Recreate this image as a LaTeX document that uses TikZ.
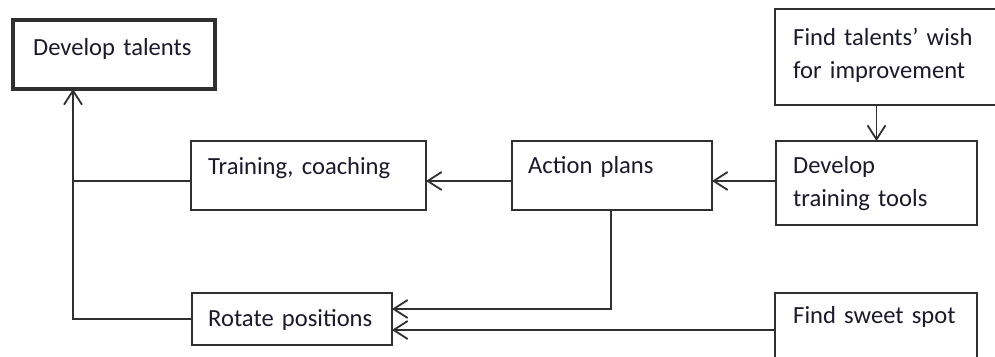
\documentclass[tikz,border=0pt]{standalone}
\usepackage{fontspec}
\setmainfont{Carlito}
\usetikzlibrary{arrows.meta}
\definecolor{linec}{HTML}{303030}
\definecolor{textc}{HTML}{1A1A2A}
\begin{document}
\begin{tikzpicture}[x=1pt,y=-1pt,
  box/.style={draw=linec, line width=1.8pt, fill=white, rectangle, inner sep=0pt, outer sep=0pt, anchor=north west},
  txt/.style={font=\fontsize{24.6}{33}\selectfont, text=textc, inner sep=0pt, anchor=base west, text width=220pt, align=left},
  conn/.style={draw=linec, line width=1.8pt},
  arr/.style={conn, -{Straight Barb[length=14pt,width=18pt,line width=1.8pt]}}]
\useasboundingbox (0,0) rectangle (995,356);
\clip (0,0) rectangle (995,356);
\fill[white] (0,0) rectangle (995,356);
% boxes
\node[box, line width=3.5pt, minimum width=202pt, minimum height=69pt] (dt) at (13,20) {};
\node[box, minimum width=235pt, minimum height=69pt] (tc) at (191,141) {};
\node[box, minimum width=200pt, minimum height=69pt] (ap) at (512,141) {};
\node[box, minimum width=235pt, minimum height=96pt] (ft) at (775,9) {};
\node[box, minimum width=201pt, minimum height=84pt] (dtt) at (776,141) {};
\node[box, minimum width=200pt, minimum height=52pt] (rp) at (192,293) {};
\node[box, minimum width=202pt, minimum height=80pt] (fs) at (775,293) {};
% texts
\node[txt] (t1) at (33,55) {Develop talents};
\node[txt] (t2) at (208,174) {Training, coaching};
\node[txt] (t3) at (528,173) {Action plans};
\node[txt] (t4) at (793,45) {Find talents’ wish\\for improvement};
\node[txt] (t5) at (793,173) {Develop\\training tools};
\node[txt] (t6) at (208,326) {Rotate positions};
\node[txt] (t7) at (793,323) {Find sweet spot};
% routing coordinates
\coordinate (hA) at (0,181);
\coordinate (hB) at (0,309);
\coordinate (hC) at (0,330);
\coordinate (vx) at (73,0);
\coordinate (vB) at (611,0);
% connectors
\draw[arr] (dtt.north |- ft.south) -- (dtt.north);
\draw[arr] (dtt.west |- hA) -- (ap.east |- hA);
\draw[arr] (ap.west |- hA) -- (tc.east |- hA);
\draw[conn] (tc.west |- hA) -- (vx |- hA);
\draw[arr] (rp.west) -| (vx |- dt.south);
\draw[arr] (vB |- ap.south) -- (vB |- hB) -- (rp.east |- hB);
\draw[arr] (fs.west |- hC) -- (rp.east |- hC);
\end{tikzpicture}
\end{document}
